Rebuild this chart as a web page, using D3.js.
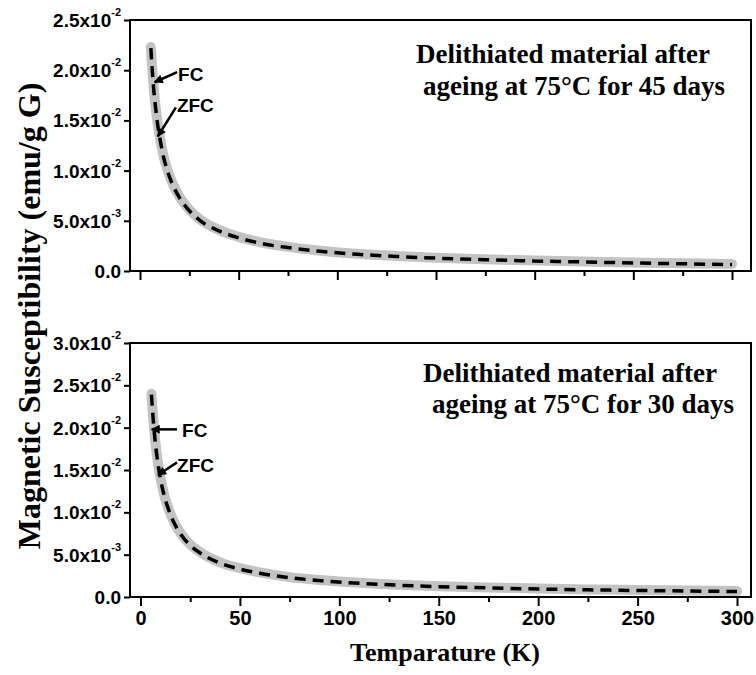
<!DOCTYPE html>
<html>
<head>
<meta charset="utf-8">
<script src="https://cdn.jsdelivr.net/npm/d3@7"></script>
<style>
  body { margin: 0; background: #fff; }
  svg { display: block; }
</style>
</head>
<body>
<svg id="chart" width="756" height="675"></svg>
<script>
(function(){
    'use strict';

    // temperatures (K) shared by both panels
    const tempK = [5.5, 6, 7, 8, 9, 10, 12, 14, 17, 20, 25, 30, 40, 50, 60, 75, 90, 110, 130, 150, 175, 200, 225, 250, 275, 300];

    // 45 days ageing (top panel), emu/g G
    const zfc45 = [0.0222, 0.0206, 0.0180, 0.0161, 0.0145, 0.0133, 0.0113, 0.0099, 0.0084, 0.0073, 0.0060, 0.0051, 0.0040, 0.0033, 0.0028, 0.00233, 0.00199, 0.00167, 0.00145, 0.00128, 0.00112, 0.00100, 0.00090, 0.00080, 0.00072, 0.00064];
    const fc45  = [0.0223, 0.0207, 0.0181, 0.0162, 0.0146, 0.0134, 0.0114, 0.0100, 0.0085, 0.0074, 0.0061, 0.0052, 0.0041, 0.0034, 0.0029, 0.00240, 0.00205, 0.00172, 0.00150, 0.00133, 0.00117, 0.00104, 0.00094, 0.00085, 0.00077, 0.00070];

    // 30 days ageing (bottom panel)
    const zfc30 = [0.0239, 0.0222, 0.0193, 0.0171, 0.0154, 0.0140, 0.0119, 0.0104, 0.0087, 0.0075, 0.0061, 0.0052, 0.0040, 0.0033, 0.0028, 0.00228, 0.00194, 0.00162, 0.00139, 0.00122, 0.00107, 0.00094, 0.00085, 0.00077, 0.00071, 0.00064];
    const fc30  = [0.0240, 0.0223, 0.0194, 0.0172, 0.0155, 0.0141, 0.0120, 0.0105, 0.0088, 0.0076, 0.0062, 0.0053, 0.0041, 0.0034, 0.0029, 0.00235, 0.00200, 0.00168, 0.00145, 0.00128, 0.00113, 0.00100, 0.00090, 0.00082, 0.00076, 0.00070];

    const xMajor = [0, 50, 100, 150, 200, 250, 300];
    const xMinor = [25, 75, 125, 175, 225, 275];

    const yTicks45 = [0, 0.005, 0.010, 0.015, 0.020, 0.025];
    const yTicks30 = [0, 0.005, 0.010, 0.015, 0.020, 0.025, 0.030];
    // [mantissa, exponent]
    const yLabels45 = [["0.0", ""], ["5.0x10", "-3"], ["1.0x10", "-2"], ["1.5x10", "-2"], ["2.0x10", "-2"], ["2.5x10", "-2"]];
    const yLabels30 = [["0.0", ""], ["5.0x10", "-3"], ["1.0x10", "-2"], ["1.5x10", "-2"], ["2.0x10", "-2"], ["2.5x10", "-2"], ["3.0x10", "-2"]];

    const titles45 = ["Delithiated material after", "ageing at 75\u00b0C for 45 days"];
    const titles30 = ["Delithiated material after", "ageing at 75\u00b0C for 30 days"];

    const svg = d3.select("#chart");

    const defs = svg.append("defs");
    defs.append("marker")
        .attr("id", "arrow")
        .attr("viewBox", "0 0 10 10")
        .attr("refX", 9).attr("refY", 5)
        .attr("markerWidth", 10).attr("markerHeight", 9)
        .attr("markerUnits", "userSpaceOnUse")
        .attr("orient", "auto")
        .append("path")
        .attr("d", "M0,0 L10,5 L0,10 Z")
        .attr("fill", "#000");

    function drawPanel(cfg) {
        const g = svg.append("g");

        const x = d3.scaleLinear().domain([0, 300]).range(cfg.xRange);
        const y = d3.scaleLinear().domain([0, cfg.yMax]).range([cfg.bottom, cfg.top]);

        // curves
        const line = d3.line()
            .x((d, i) => x(tempK[i]))
            .y(d => y(d))
            .curve(d3.curveMonotoneX);

        g.append("path")
            .datum(cfg.fc)
            .attr("d", line)
            .attr("fill", "none")
            .attr("stroke", "#c3c3c3")
            .attr("stroke-width", 10)
            .attr("stroke-linecap", "round")
            .attr("stroke-linejoin", "round");

        g.append("path")
            .datum(cfg.zfc)
            .attr("d", line)
            .attr("fill", "none")
            .attr("stroke", "#000")
            .attr("stroke-width", 3.5)
            .attr("stroke-dasharray", "11,7");

        // frame
        g.append("rect")
            .attr("x", cfg.left)
            .attr("y", cfg.top)
            .attr("width", cfg.right - cfg.left)
            .attr("height", cfg.bottom - cfg.top)
            .attr("fill", "none")
            .attr("stroke", "#000")
            .attr("stroke-width", 2);

        // x ticks
        const xAxis = g.append("g")
            .attr("transform", `translate(0,${cfg.bottom})`)
            .call(d3.axisBottom(x).tickValues(xMajor).tickSize(9).tickSizeOuter(0)
                .tickFormat(cfg.showXLabels ? d3.format("d") : ""));
        xAxis.select(".domain").remove();
        xAxis.selectAll(".tick line").attr("stroke-width", 2);
        xAxis.selectAll(".tick text")
            .attr("y", 14)
            .attr("dy", "0.71em")
            .style("font-family", "'Liberation Sans', Arial, sans-serif")
            .style("font-weight", "bold")
            .style("font-size", "20px")
            .attr("fill", "#000");

        const xMin = g.append("g")
            .attr("transform", `translate(0,${cfg.bottom})`)
            .call(d3.axisBottom(x).tickValues(xMinor).tickSize(5).tickFormat(""));
        xMin.select(".domain").remove();
        xMin.selectAll(".tick line").attr("stroke-width", 2);

        // y ticks
        const yAxis = g.append("g")
            .attr("transform", `translate(${cfg.left},0)`)
            .call(d3.axisLeft(y).tickValues(cfg.yTicks).tickSize(6).tickFormat(""));
        yAxis.select(".domain").remove();
        yAxis.selectAll(".tick line").attr("stroke-width", 2);

        const labels = g.append("g")
            .style("font-family", "'Liberation Sans', Arial, sans-serif")
            .style("font-weight", "bold")
            .attr("fill", "#000");
        cfg.yTicks.forEach((v, i) => {
            const t = labels.append("text")
                .attr("x", cfg.left - 9)
                .attr("y", y(v) + 7)
                .attr("text-anchor", "end")
                .style("font-size", "19px");
            t.append("tspan").text(cfg.yLabels[i][0]);
            if (cfg.yLabels[i][1]) {
                t.append("tspan")
                    .attr("dy", -11)
                    .style("font-size", "11px")
                    .text(cfg.yLabels[i][1]);
            }
        });

        // annotation
        g.selectAll("text.title")
            .data(cfg.titles)
            .join("text")
            .attr("class", "title")
            .attr("x", (d, i) => cfg.titleX[i])
            .attr("y", (d, i) => cfg.titleY[i])
            .style("font-family", "'Liberation Serif', 'Times New Roman', serif")
            .style("font-weight", "bold")
            .style("font-size", "27px")
            .attr("fill", "#000")
            .text(d => d);

        // FC / ZFC arrows
        cfg.arrows.forEach(a => {
            const x0 = x(a.from[0]), y0 = y(a.from[1]);
            g.append("line")
                .attr("x1", x0).attr("y1", y0)
                .attr("x2", x(a.to[0])).attr("y2", y(a.to[1]))
                .attr("stroke", "#000")
                .attr("stroke-width", 2.5)
                .attr("marker-end", "url(#arrow)");
            g.append("text")
                .attr("x", x0 + a.dx)
                .attr("y", y0 + a.dy)
                .style("font-family", "'Liberation Sans', Arial, sans-serif")
                .style("font-weight", "bold")
                .style("font-size", "19px")
                .attr("fill", "#000")
                .text(a.label);
        });
    }

    drawPanel({
        left: 130, right: 751, top: 20, bottom: 271,
        xRange: [140, 732],
        yMax: 0.025,
        yTicks: yTicks45, yLabels: yLabels45,
        zfc: zfc45, fc: fc45,
        showXLabels: false,
        titles: titles45, titleX: [416, 423], titleY: [63, 95],
        arrows: [
            { label: "FC", from: [18.8, 0.0198], to: [7.4, 0.0188], dx: 1, dy: 9 },
            { label: "ZFC", from: [18.2, 0.0163], to: [9.0, 0.0134], dx: 1, dy: 5 }
        ]
    });

    drawPanel({
        left: 130, right: 751, top: 343, bottom: 597,
        xRange: [140.5, 737],
        yMax: 0.030,
        yTicks: yTicks30, yLabels: yLabels30,
        zfc: zfc30, fc: fc30,
        showXLabels: true,
        titles: titles30, titleX: [423, 432], titleY: [382, 413],
        arrows: [
            { label: "FC", from: [18.4, 0.0198], to: [5.6, 0.0198], dx: 5, dy: 8 },
            { label: "ZFC", from: [18.4, 0.0159], to: [8.8, 0.0144], dx: 0, dy: 10 }
        ]
    });

    // axis titles
    svg.append("text")
        .attr("transform", "translate(40,316) rotate(-90)")
        .attr("text-anchor", "middle")
        .style("font-family", "'Liberation Serif', 'Times New Roman', serif")
        .style("font-weight", "bold")
        .style("font-size", "32px")
        .attr("fill", "#000")
        .text("Magnetic Susceptibility (emu/g G)");

    svg.append("text")
        .attr("x", 445)
        .attr("y", 661)
        .attr("text-anchor", "middle")
        .style("font-family", "'Liberation Serif', 'Times New Roman', serif")
        .style("font-weight", "bold")
        .style("font-size", "26px")
        .attr("fill", "#000")
        .text("Temparature (K)");
})();
</script>
</body>
</html>
